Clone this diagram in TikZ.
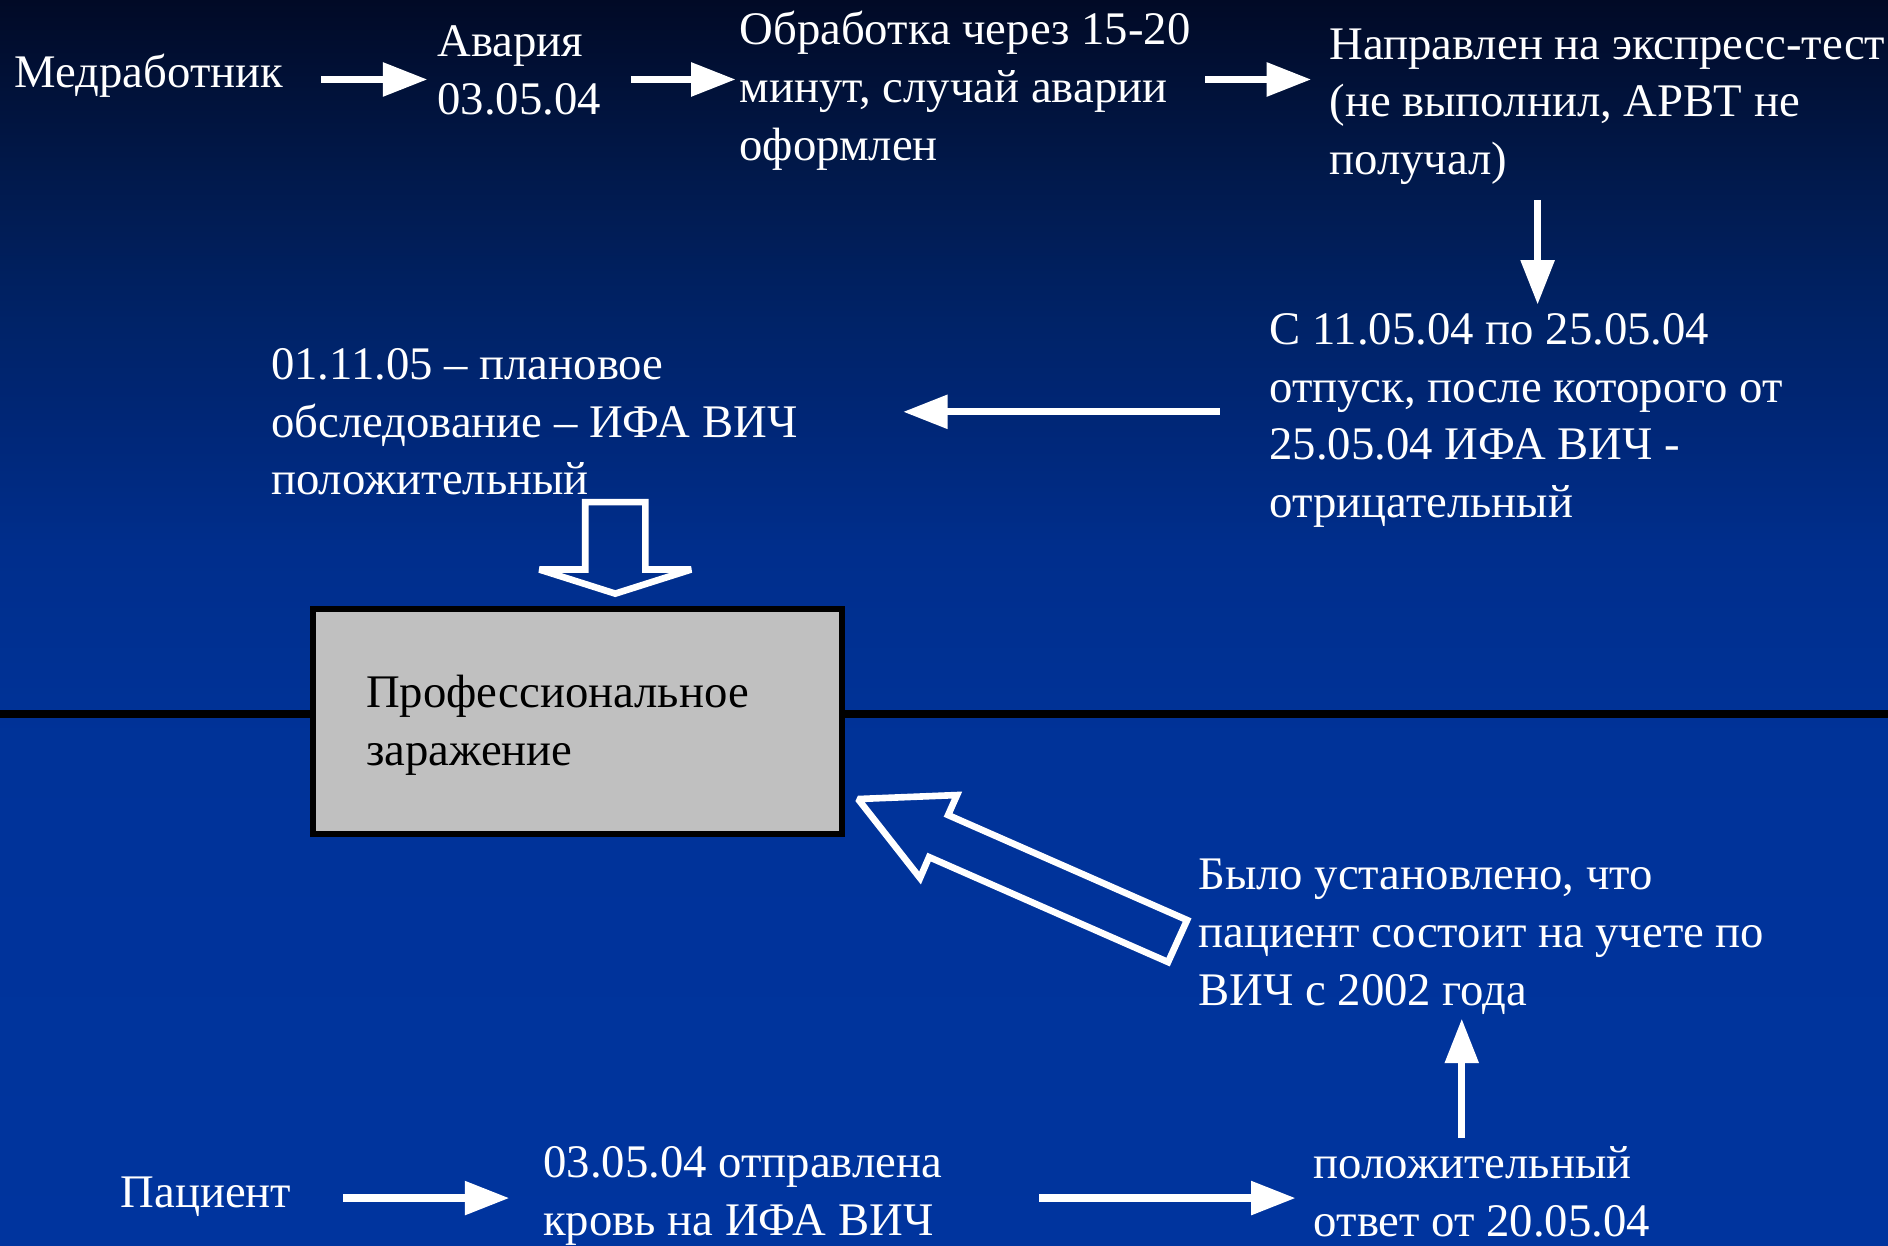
\documentclass[tikz,border=0pt]{standalone}
\usepackage{fontspec}
\setmainfont{Liberation Serif}
\usetikzlibrary{arrows.meta}
\definecolor{bgA}{RGB}{1,10,38}
\definecolor{bgB}{RGB}{1,26,78}
\definecolor{bgC}{RGB}{0,35,104}
\definecolor{bgD}{RGB}{0,38,117}
\definecolor{bgE}{RGB}{0,46,140}
\definecolor{bgF}{RGB}{0,51,153}
\definecolor{bgG}{RGB}{0,52,158}
\definecolor{boxgray}{RGB}{192,192,192}
\pgfdeclareverticalshading{slidebg}{100bp}{color(0bp)=(bgG); color(25bp)=(bgG); color(45bp)=(bgF); color(53bp)=(bgE); color(58.5bp)=(bgD); color(62bp)=(bgC); color(67.5bp)=(bgB); color(75bp)=(bgA); color(100bp)=(bgA)}
\begin{document}
\begin{tikzpicture}[x=1pt,y=-1pt,line join=miter,font=\fontsize{38.8}{48}\selectfont,
	txt/.style={anchor=base west,align=left,text=white,inner sep=0pt},
	warrow/.style={draw=white,line width=6pt,-{Triangle[length=37pt,width=27pt]}},
	hollow/.style={draw=white,line width=5.5pt,miter limit=2},
	boxst/.style={draw=black,line width=5pt,fill=boxgray,text=black,minimum width=439.5pt,minimum height=187pt,text width=351.5pt,text height=34pt,inner xsep=44pt,inner ysep=0pt,align=left}]
	\useasboundingbox (0,0) rectangle (1568,1034);
	\shade[shading=slidebg] (0,0) rectangle (1568,1034);
	% line across the slide
	\draw[line width=7pt] (0,593) -- (1568,593);
	% texts (placed at the baseline of their last line)
	\node[txt] (med) at (12,73) {Медработник};
	\node[txt] (avar) at (363,95) {Авария\\03.05.04};
	\node[txt] (obr) at (614,133) {Обработка через 15-20\\минут, случай аварии\\оформлен};
	\node[txt] (napr) at (1104,145) {Направлен на экспресс-тест\\(не выполнил, АРВТ не\\получал)};
	\node[txt] (otpusk) at (1054,430) {С 11.05.04 по 25.05.04\\отпуск, после которого от\\25.05.04 ИФА ВИЧ -\\отрицательный};
	\node[txt] (plan) at (225,411) {01.11.05 – плановое\\обследование – ИФА ВИЧ\\положительный};
	\node[txt] (ustan) at (995,835) {Было установлено, что\\пациент состоит на учете по\\ВИЧ с 2002 года};
	\node[txt] (pac) at (100,1003) {Пациент};
	\node[txt] (krov) at (451,1026) {03.05.04 отправлена\\кровь на ИФА ВИЧ};
	\node[txt] (otvet) at (1091,1027) {положительный\\ответ от 20.05.04};
	\node[boxst] (box) at (479.75,599) {Профессиональное\\заражение};
	% arrow ends
	\path
	(267,66) coordinate (m1) (355,66) coordinate (m2)
	(524,66) coordinate (v1) (611,66) coordinate (v2)
	(1001,66) coordinate (o1) (1089,66) coordinate (o2)
	(1277,166) coordinate (n1) (1277,253) coordinate (n2)
	(1013,342) coordinate (s1) (750,342) coordinate (s2)
	(285,995) coordinate (p1) (423,995) coordinate (p2)
	(863,995) coordinate (k1) (1076,995) coordinate (k2)
	(1214,945) coordinate (u1) (1214,846) coordinate (u2)
	;
	\foreach \a/\b in {m1/m2,v1/v2,o1/o2,n1/n2,s1/s2,p1/p2,k1/k2,u1/u2}\draw[warrow] (\a)--(\b);
	% hollow arrows to the box
	\path
	(486,417) coordinate (D1) (536,417) coordinate (D2)
	(536,473) coordinate (D3) (574,473) coordinate (D4)
	(511,493) coordinate (D5) (448,473) coordinate (D6)
	(486,473) coordinate (D7)
	(712.6,663.6) coordinate (T1) (794.8,660.3) coordinate (T2)
	(787.4,676.9) coordinate (T3) (985.9,764.1) coordinate (T4)
	(970.1,799) coordinate (T5) (771.6,711.8) coordinate (T6)
	(764.1,729.2) coordinate (T7)
	;
	\draw[hollow] (D1)--(D2)--(D3)--(D4)--(D5)--(D6)--(D7)--cycle;
	\draw[hollow] (T1)--(T2)--(T3)--(T4)--(T5)--(T6)--(T7)--cycle;
\end{tikzpicture}
\end{document}
